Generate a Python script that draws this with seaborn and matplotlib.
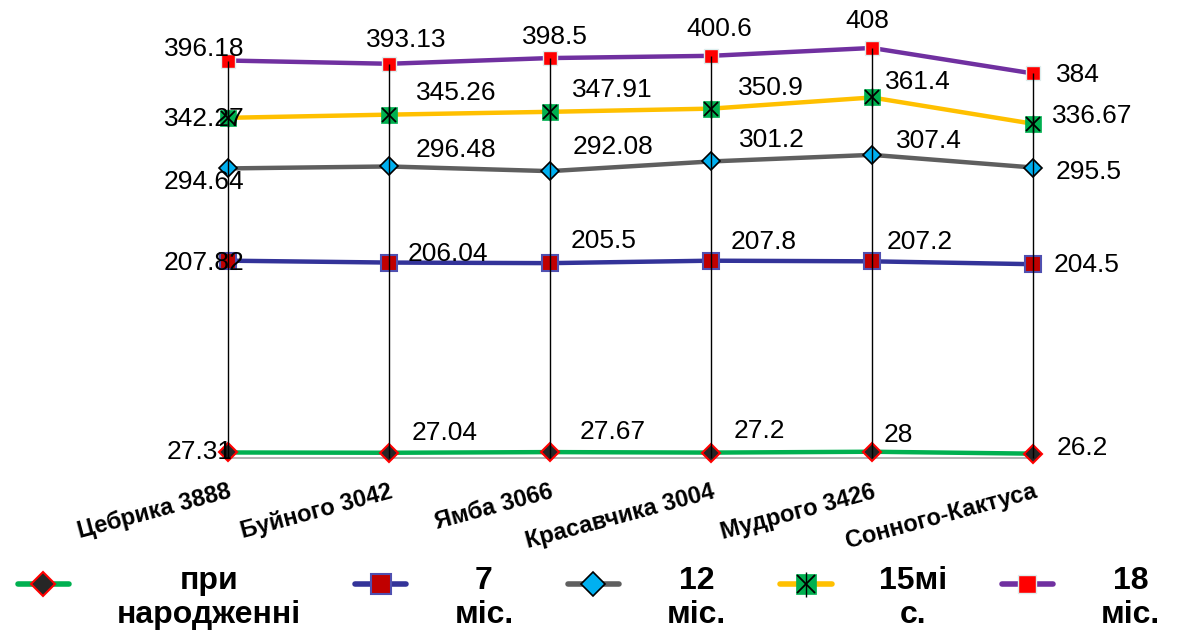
#import libraries
import pandas as pd
import numpy as np
import matplotlib
matplotlib.use('Agg')
import matplotlib.pyplot as plt
from matplotlib.lines import Line2D
from matplotlib.legend_handler import HandlerTuple
from matplotlib.transforms import Affine2D
import seaborn as sns

#data
categories = ['Цебрика 3888', 'Буйного 3042', 'Ямба 3066', 'Красавчика 3004', 'Мудрого 3426', 'Сонного-Кактуса']
birth = [27.31, 27.04, 27.67, 27.2, 28, 26.2]
m7 = [207.82, 206.04, 205.5, 207.8, 207.2, 204.5]
m12 = [294.64, 296.48, 292.08, 301.2, 307.4, 295.5]
m15 = [342.27, 345.26, 347.91, 350.9, 361.4, 336.67]
m18 = [396.18, 393.13, 398.5, 400.6, 408, 384]
series_names = ['при\nнародженні', '7\nміс.', '12\nміс.', '15мі\nс.', '18\nміс.']

#styles for each series
styles = [
    dict(color='#00B050', marker='D', ms=9, mfc='#262626', mec='#FF0000', mew=1.5),
    dict(color='#333399', marker='s', ms=12, mfc='#C00000', mec='#5050B0', mew=1.5),
    dict(color='#5F5F5F', marker='D', ms=9, mfc='#00B0F0', mec='black', mew=1.2),
    dict(color='#FFC000', marker='s', ms=11, mfc='#00B050', mec='#00B050', mew=0.5),
    dict(color='#7030A0', marker='s', ms=10, mfc='#FF0000', mec='#DDEEEE', mew=1.0),
]

#label offsets in pixels (dx, dy)
offsets = [
    [(-28, 0), (56, 20), (63, 20), (48, 22), (26, 17), (49, 6)],
    [(-24, -2), (59, 9), (54, 22), (53, 19), (48, 19), (54, -1)],
    [(-24, -14), (67, 16), (63, 24), (61, 21), (57, 14), (56, -4)],
    [(-24, -1), (67, 22), (62, 22), (60, 21), (46, 15), (59, 8)],
    [(-24, 12), (17, 24), (5, 21), (8, 27), (-5, 27), (45, -2)],
]

sns.set_theme(style='white')
plt.rcParams['font.family'] = ['Liberation Sans', 'DejaVu Sans']

fig = plt.figure(figsize=(11.78, 6.3), dpi=100)
ax = fig.add_axes([0.1935, 0.273, 0.6834, 0.6711])

all_series = [birth, m7, m12, m15, m18]

#drop lines from the highest point down to the axis
ymin = 22.1
tops = np.max(np.array(all_series), axis=0)
ax.vlines(range(len(categories)), ymin, tops, color='black', lw=1, zorder=4, clip_on=False)

for vals, st in zip(all_series, styles):
    sns.lineplot(x=categories, y=vals, ax=ax, color=st['color'], lw=3.2, marker=st['marker'],
                 markersize=st['ms'], markerfacecolor=st['mfc'], markeredgecolor=st['mec'],
                 markeredgewidth=st['mew'], sort=False, clip_on=False, zorder=3)

#star marker for 15 months
ax.plot(range(len(categories)), m15, ls='none', marker='x', ms=10, mec='black', mew=1.3, clip_on=False, zorder=5)
ax.plot(range(len(categories)), m15, ls='none', marker='|', ms=13, mec='black', mew=1.0, clip_on=False, zorder=5)

#data labels
for vals, offs in zip(all_series, offsets):
    for i, v in enumerate(vals):
        ax.annotate(f'{v:g}', (i, v), xytext=offs[i], textcoords='offset pixels',
                    ha='center', va='center', fontsize=19, color='black', zorder=6)

ax.set_xlim(0, len(categories) - 1)
ax.set_ylim(ymin, 420)
ax.set_yticks([])
ax.set_xticks(range(len(categories)))
ax.set_xticklabels(categories, rotation=15, ha='right', rotation_mode='anchor',
                   fontsize=17, fontweight='bold', color='black')
ax.tick_params(axis='x', pad=16, length=0)
for s in ['top', 'right', 'left']:
    ax.spines[s].set_visible(False)
ax.spines['bottom'].set_color('#A6A6A6')
ax.spines['bottom'].set_linewidth(1.2)
ax.set_xlabel('')
ax.set_ylabel('')

#legend
handles = []
for i, st in enumerate(styles):
    h = Line2D([], [], color=st['color'], lw=4, marker=st['marker'], ms=st['ms'] + 3,
               mfc=st['mfc'], mec=st['mec'], mew=st['mew'])
    if i == 3:
        hx = Line2D([], [], ls='none', marker='x', ms=13, mec='black', mew=1.3)
        hv = Line2D([], [], ls='none', marker='|', ms=18, mec='black', mew=1.0)
        h = (h, hx, hv)
    handles.append(h)

leg = fig.legend(handles, series_names, loc='lower center', bbox_to_anchor=(0.5, -0.016), ncol=5,
                 frameon=False, handlelength=1.6, handletextpad=1.5, columnspacing=1.7,
                 borderaxespad=0.1, borderpad=0.2,
                 prop={'size': 23, 'weight': 'bold'},
                 handler_map={tuple: HandlerTuple(ndivide=1, pad=0)})
for t in leg.get_texts():
    t.set_multialignment('center')
    t.set_color('black')

#move legend markers up to the first text line
for col in leg._legend_handle_box.get_children():
    for row in col.get_children():
        da = row.get_children()[0]
        for a in da.get_children():
            a.set_transform(a.get_transform() + Affine2D().translate(0, 15))

plt.savefig('out.png', dpi=100)
